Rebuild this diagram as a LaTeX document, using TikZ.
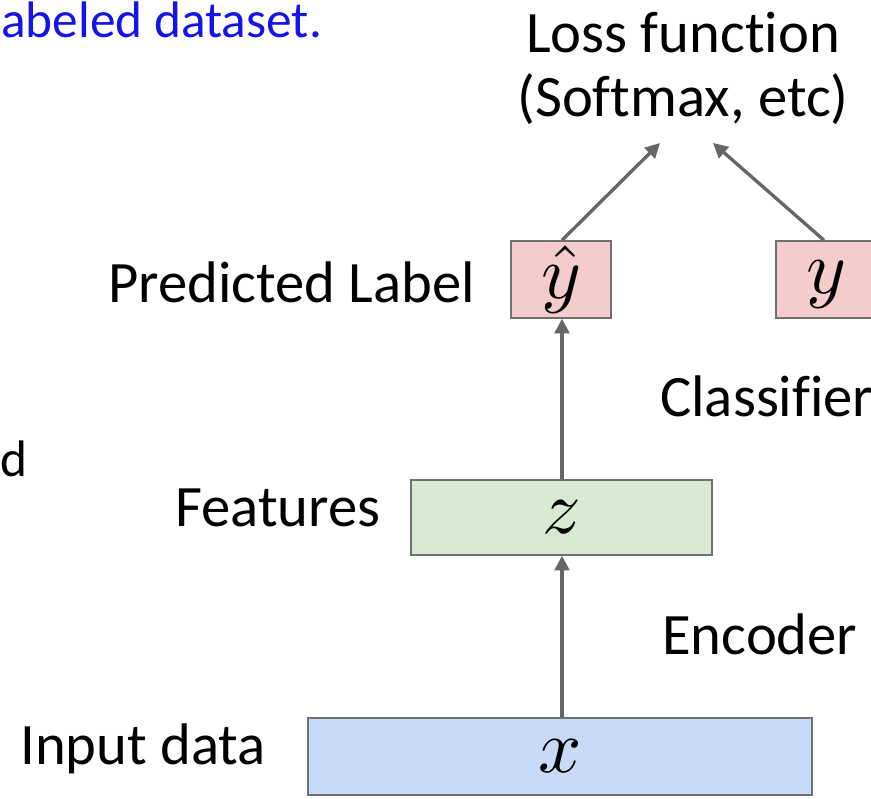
\documentclass[tikz,border=0pt]{standalone}
\usepackage{graphicx}
\usepackage{fontspec}
\setmainfont{Carlito}[Ligatures={NoCommon}]
\usetikzlibrary{arrows.meta}
\definecolor{boxline}{HTML}{707070}
\definecolor{arrowgray}{HTML}{666666}
\definecolor{inblue}{HTML}{C9DAF8}
\definecolor{featgreen}{HTML}{D9EAD3}
\definecolor{labelpink}{HTML}{F4CCCC}
\definecolor{linkblue}{HTML}{1414E6}
\newcommand{\bigsym}[1]{\scalebox{5.7}{$#1$}}
\tikzset{
  vecbox/.style={draw=boxline, line width=1.1pt, inner sep=0pt, minimum height=57.75pt},
  caption/.style={font=\fontsize{44}{48}\selectfont, inner sep=0pt},
  mathsym/.style={inner sep=0pt},
  flow/.style={draw=arrowgray, line width=2.5pt, -{Triangle[length=11pt, width=11pt]}}
}
\begin{document}
\begin{tikzpicture}[x=0.75pt, y=-0.75pt]
  \useasboundingbox (0,0) rectangle (871,799);

  % stacked representation boxes
  \node[vecbox, fill=inblue, minimum width=378pt] (x) at (560,756.5) {};
  \node[mathsym] (xs) at (x.center) {\bigsym{x}};
  \node[vecbox, fill=featgreen, minimum width=225.75pt, minimum height=56.25pt] (z) at (561.5,517.5) {};
  \node[mathsym] (zs) at (z.center) {\bigsym{z}};
  \node[vecbox, fill=labelpink, minimum width=75pt] (yhat) at (561,279.5) {};
  \node[mathsym] (yhs) at (yhat.center) {\bigsym{\hat{y}}};
  \node[vecbox, fill=labelpink, minimum width=75pt] (y) at (826,279.5) {};
  \node[mathsym, yshift=-4pt] (ys) at (y.center) {\bigsym{y}};

  % loss function heading
  \node[caption, align=center] (loss) at (683,68) {Loss function\\(Softmax, etc)};
  \coordinate (lossL) at (660,143);
  \coordinate (lossR) at (713,143);

  % side captions
  \node[caption, anchor=base west] (lblPred) at (108,302) {Predicted Label};
  \node[caption, anchor=base west] (lblFeat) at (175,526) {Features};
  \node[caption, anchor=base west] (lblIn) at (20,764) {Input data};
  \node[caption, anchor=base west] (lblEnc) at (662,654) {Encoder};
  \node[caption, anchor=base west] (lblCls) at (660,416) {Classifier};

  % fragments of surrounding slide text
  \node[font=\fontsize{38.5}{42}\selectfont, text=linkblue, anchor=base west, inner sep=0pt] (topText) at (1,38) {abeled dataset.};
  \node[font=\fontsize{38.5}{42}\selectfont, anchor=base west, inner sep=0pt] (sideText) at (0,476) {d};

  % data flow
  \draw[flow] (x.north -| 562,0) -- (z.south -| 562,0);
  \draw[flow] (z.north -| 562,0) -- (yhat.south -| 562,0);
  \draw[flow] (yhat.north -| 562,0) -- (lossL);
  \draw[flow] (y.north -| 824,0) -- (lossR);
\end{tikzpicture}
\end{document}
